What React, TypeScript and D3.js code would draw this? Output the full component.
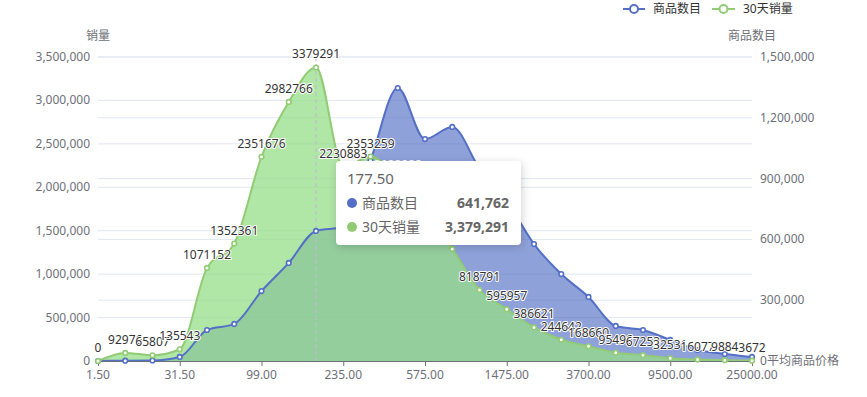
import React from "react";
import * as d3 from "d3";

const categories = [
  "1.50", "7.50", "17.50", "31.50", "49.50", "72.00", "99.00", "132.50", "177.50",
  "235.00", "325.00", "450.00", "575.00", "750.00", "1100.00", "1475.00", "1900.00",
  "2750.00", "3700.00", "5000.00", "7000.00", "9500.00", "12500.00", "17500.00", "25000.00",
];
const salesValues = [
  0, 92976, 65807, 135543, 1071152, 1352361, 2351676, 2982766, 3379291, 2230883,
  2353259, 2100000, 1700000, 1290000, 818791, 595957, 386621, 244642, 168660, 95496,
  67253, 32531, 16077, 9884, 3672,
];
const countValues = [
  0, 1500, 2500, 20000, 153000, 183000, 345000, 484000, 641762, 661000,
  990000, 1347000, 1095000, 1155000, 950000, 790000, 577000, 429000, 316000, 173000,
  153000, 104000, 54000, 35000, 20000,
];
const leftTicks = [0, 500000, 1000000, 1500000, 2000000, 2500000, 3000000, 3500000];
const rightTicks = [0, 300000, 600000, 900000, 1200000, 1500000];
const seriesNames = ["商品数目", "30天销量"];
const hoverIndex = 8;

const W = 867;
const H = 397;
const FONT = "'Noto Sans', 'Noto Sans CJK SC', sans-serif";
const BLUE = "#5470c6";
const GREEN = "#91cc75";

export default function App() {
  const x = d3.scalePoint<string>().domain(categories).range([98, 752]);
  const yL = d3.scaleLinear().domain([0, 3500000]).range([361, 57]);
  const yR = d3.scaleLinear().domain([0, 1500000]).range([361, 57]);
  const fmt = d3.format(",");

  const blueLine = d3.line<number>().x((_, i) => x(categories[i])!).y((d) => yR(d)).curve(d3.curveMonotoneX);
  const blueArea = d3.area<number>().x((_, i) => x(categories[i])!).y0(yR(0)).y1((d) => yR(d)).curve(d3.curveMonotoneX);
  const greenLine = d3.line<number>().x((_, i) => x(categories[i])!).y((d) => yL(d)).curve(d3.curveMonotoneX);
  const greenArea = d3.area<number>().x((_, i) => x(categories[i])!).y0(yL(0)).y1((d) => yL(d)).curve(d3.curveMonotoneX);

  const hx = x(categories[hoverIndex])!;

  return (
    <div style={{ position: "fixed", left: 0, top: 0, width: W, height: H, background: "#fff" }}>
      <svg width={W} height={H} style={{ display: "block", fontFamily: FONT }}>
        <defs>
          <filter id="tipShadow" x="-20%" y="-30%" width="140%" height="160%">
            <feDropShadow dx="1" dy="2" stdDeviation="4" floodColor="#000" floodOpacity="0.18" />
          </filter>
        </defs>
        {/* grid lines */}
        {leftTicks.map((t) => (
          <line key={"gl" + t} x1={98} x2={752} y1={yL(t)} y2={yL(t)} stroke="#E0E6F1" />
        ))}
        {rightTicks.map((t) => (
          <line key={"gr" + t} x1={98} x2={752} y1={yR(t)} y2={yR(t)} stroke="#E0E6F1" />
        ))}
        {/* areas */}
        <path d={blueArea(countValues)!} fill={BLUE} fillOpacity={0.66} />
        <path d={greenArea(salesValues)!} fill="rgb(150,222,136)" fillOpacity={0.75} />
        {/* axis pointer */}
        <line x1={hx} x2={hx} y1={57} y2={361} stroke="#c6b6d6" strokeDasharray="4,3" />
        {/* lines */}
        <path d={blueLine(countValues)!} fill="none" stroke={BLUE} strokeWidth={2} />
        <path d={greenLine(salesValues)!} fill="none" stroke={GREEN} strokeWidth={2} />
        {/* x axis */}
        <line x1={98} x2={752} y1={361.5} y2={361.5} stroke="#6E7079" />
        {categories.map((c, i) =>
          i % 3 === 0 ? (
            <g key={"xt" + c}>
              <line x1={x(c)! + 0.5} x2={x(c)! + 0.5} y1={361} y2={366} stroke="#6E7079" />
              <text x={x(c)!} y={379} textAnchor="middle" fontSize={12} fill="#6E7079">
                {c}
              </text>
            </g>
          ) : null
        )}
        {/* y axis labels */}
        {leftTicks.map((t) => (
          <text key={"lt" + t} x={90} y={yL(t) + 4} textAnchor="end" fontSize={12} fill="#6E7079">
            {fmt(t)}
          </text>
        ))}
        {rightTicks.map((t) => (
          <text key={"rt" + t} x={760} y={yR(t) + 4} textAnchor="start" fontSize={12} fill="#6E7079">
            {fmt(t)}
          </text>
        ))}
        <text x={98} y={40} textAnchor="middle" fontSize={12} fill="#6E7079">销量</text>
        <text x={752} y={40} textAnchor="middle" fontSize={12} fill="#6E7079">商品数目</text>
        <text x={767} y={365} textAnchor="start" fontSize={12} fill="#6E7079">平均商品价格</text>
        {/* symbols */}
        {countValues.map((v, i) => (
          <circle key={"bs" + i} cx={x(categories[i])!} cy={yR(v)} r={2.3} fill="#fff" stroke={BLUE} strokeWidth={1.6} />
        ))}
        {salesValues.map((v, i) => (
          <circle key={"gs" + i} cx={x(categories[i])!} cy={yL(v)} r={2.3} fill="#fff" stroke={GREEN} strokeWidth={1.6} />
        ))}
        {/* labels */}
        {salesValues.map((v, i) => (
          <text
            key={"lb" + i}
            x={x(categories[i])!}
            y={yL(v) - 9}
            textAnchor="middle"
            fontSize={12}
            fill="#333"
            stroke="#fff"
            strokeWidth={2}
            paintOrder="stroke"
            strokeLinejoin="round"
          >
            {v}
          </text>
        ))}
        {/* legend */}
        <g>
          <line x1={623} x2={645} y1={9} y2={9} stroke={BLUE} strokeWidth={2} />
          <circle cx={634} cy={9} r={4} fill="#fff" stroke={BLUE} strokeWidth={2} />
          <text x={653} y={13} fontSize={12} fill="#333">{seriesNames[0]}</text>
          <line x1={712} x2={735} y1={9} y2={9} stroke={GREEN} strokeWidth={2} />
          <circle cx={723.5} cy={9} r={4} fill="#fff" stroke={GREEN} strokeWidth={2} />
          <text x={743} y={13} fontSize={12} fill="#333">{seriesNames[1]}</text>
        </g>
        {/* tooltip */}
        <g>
          <rect x={336} y={161} width={185} height={84} rx={4} fill="#fff" filter="url(#tipShadow)" />
          <text x={347} y={184} fontSize={15} fill="#666">{categories[hoverIndex]}</text>
          <circle cx={352} cy={203} r={5} fill={BLUE} />
          <text x={362} y={208} fontSize={14} fill="#666">{seriesNames[0]}</text>
          <text x={509} y={208} fontSize={14} fill="#666" fontWeight="bold" textAnchor="end">
            {fmt(countValues[hoverIndex])}
          </text>
          <circle cx={352} cy={227} r={5} fill={GREEN} />
          <text x={362} y={232} fontSize={14} fill="#666">{seriesNames[1]}</text>
          <text x={509} y={232} fontSize={14} fill="#666" fontWeight="bold" textAnchor="end">
            {fmt(salesValues[hoverIndex])}
          </text>
        </g>
      </svg>
    </div>
  );
}
